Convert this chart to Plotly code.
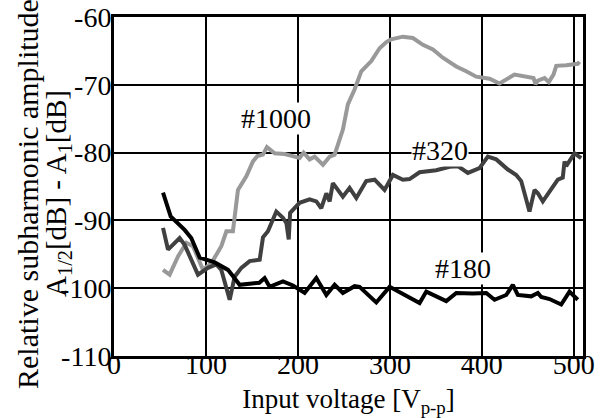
import plotly.graph_objects as go

# ---- data ----
x180 = [53.3, 61.6, 76.8, 84.0, 93.2, 100.4, 109.5, 124.0, 133.0, 136.6, 150.0, 158.0, 163.8, 169.2,
        183.7, 194.6, 207.3, 220.0, 230.9, 239.9, 248.9, 261.6, 267.0, 285.2, 299.7, 316.0, 332.3,
        339.6, 361.3, 372.2, 390.2, 404.8, 413.8, 426.5, 433.7, 439.1, 453.7, 460.9, 464.6, 473.6,
        486.3, 495.3, 504.3]
y180 = [-85.9, -89.4, -91.4, -92.6, -95.5, -95.8, -96.2, -97.3, -99.0, -99.5, -99.3, -99.2, -98.5, -99.8,
        -99.0, -99.6, -100.7, -98.5, -101.0, -99.5, -100.7, -99.7, -99.8, -102.1, -99.8, -101.0, -102.2,
        -100.5, -101.9, -100.7, -100.8, -100.7, -101.7, -101.0, -99.5, -101.0, -101.2, -100.7, -101.3, -101.6,
        -102.4, -100.5, -101.7]

x320 = [53.3, 58.7, 71.4, 76.8, 91.3, 102.2, 111.3, 116.7, 125.8, 131.2, 138.5, 147.5, 158.4, 162.0,
        167.4, 176.5, 183.7, 187.5, 190.0, 191.5, 201.8, 212.7, 220.0, 225.4, 230.9, 234.5, 238.0,
        248.9, 256.2, 263.5, 274.3, 283.4, 294.2, 303.3, 314.1, 321.4, 332.3, 350.4, 364.9, 373.9,
        384.8, 397.5, 406.5, 415.7, 428.3, 437.4, 442.8, 451.8, 457.3, 460.9, 466.3, 477.2, 482.6,
        488.0, 489.9, 491.7, 500.8, 508.0]
y320 = [-91.1, -94.3, -92.6, -93.6, -98.0, -97.0, -96.5, -97.3, -101.7, -98.3, -97.0, -96.0, -95.8, -92.5,
        -91.6, -88.7, -89.6, -90.4, -92.8, -88.9, -87.4, -86.9, -87.2, -88.2, -86.0, -87.2, -84.5,
        -86.5, -85.2, -86.7, -84.2, -84.0, -85.5, -83.3, -84.0, -83.9, -82.9, -82.6, -82.1, -82.0,
        -83.0, -82.3, -80.6, -81.0, -82.5, -83.3, -84.2, -88.7, -85.5, -86.0, -87.2, -85.0, -84.0,
        -83.7, -81.3, -82.0, -80.1, -80.8]

x1000 = [53.3, 60.5, 69.6, 78.7, 85.9, 96.7, 105.9, 116.7, 122.2, 129.3, 134.8, 143.9, 151.1, 156.0,
         162.0, 166.3, 174.7, 185.5, 196.4, 201.8, 206.2, 212.7, 218.2, 227.2, 234.5, 239.9, 248.9,
         254.3, 261.6, 268.9, 279.8, 288.8, 296.1, 301.5, 314.1, 325.0, 335.9, 346.8, 357.6, 372.2,
         383.0, 393.9, 408.4, 419.2, 435.5, 446.4, 456.2, 458.4, 460.9, 468.2, 472.8, 477.9, 480.9,
         491.7, 504.3, 506.2]
y1000 = [-97.3, -98.0, -95.3, -93.3, -93.8, -97.3, -96.3, -93.8, -91.6, -91.6, -85.5, -83.5, -81.3, -80.5,
         -80.3, -79.2, -80.1, -80.2, -80.6, -80.8, -80.0, -81.0, -80.6, -81.8, -80.6, -80.3, -76.6,
         -72.9, -70.7, -68.0, -66.5, -64.6, -63.7, -63.3, -62.9, -63.1, -64.1, -64.8, -66.0, -67.3,
         -68.0, -68.8, -69.1, -69.8, -68.5, -68.7, -69.0, -69.9, -69.4, -69.0, -69.6, -68.5, -67.2,
         -67.1, -66.9, -66.6]

x_ticks = [0, 100, 200, 300, 400, 500]
y_ticks = [-110, -100, -90, -80, -70, -60]
y_ticktext = ["-110", "-100", "-90", "-80", "-70", "-60"]

labels = ["#180", "#320", "#1000"]
label_x = [380, 354, 176]
label_y = [-97.1, -79.7, -74.9]

FONT = "Liberation Serif, Times New Roman, serif"

fig = go.Figure()
fig.add_trace(go.Scatter(x=x1000, y=y1000, mode="lines",
                         line=dict(color="#999999", width=4), showlegend=False))
fig.add_trace(go.Scatter(x=x320, y=y320, mode="lines",
                         line=dict(color="#404040", width=4), showlegend=False))
fig.add_trace(go.Scatter(x=x180, y=y180, mode="lines",
                         line=dict(color="#000000", width=4), showlegend=False))

for t, lx, ly in zip(labels, label_x, label_y):
    fig.add_annotation(x=lx, y=ly, text=t, showarrow=False, bgcolor="white",
                       font=dict(family=FONT, size=28, color="black"), borderpad=0)

# y-axis title (two lines, tight spacing as in the reference)
fig.add_annotation(xref="paper", yref="paper", x=(28 - 114) / 469, y=0.478,
                   xanchor="center", yanchor="middle",
                   text="Relative subharmonic amplitude", textangle=-90, showarrow=False,
                   font=dict(family=FONT, size=30, color="black"))
fig.add_annotation(xref="paper", yref="paper", x=(58 - 114) / 469, y=0.478,
                   xanchor="center", yanchor="middle",
                   text="A<sub>1/2</sub>[dB] - A<sub>1</sub>[dB]", textangle=-90, showarrow=False,
                   font=dict(family=FONT, size=29, color="black"))

fig.update_layout(
    template="none",
    width=608, height=418,
    margin=dict(l=114, r=25, t=17, b=62, autoexpand=False),
    paper_bgcolor="white", plot_bgcolor="white",
    font=dict(family=FONT, color="black"),
    xaxis=dict(range=[0, 510], tickvals=x_ticks, ticks="", showgrid=True, gridcolor="black",
               gridwidth=2, showline=True, linecolor="black", linewidth=3, mirror=True,
               zeroline=False, tickfont=dict(size=28, family=FONT), ticklabelstandoff=-19,
               automargin=False,
               title=dict(text="Input voltage [V<sub>p-p</sub>]", font=dict(size=27, family=FONT),
                          standoff=12)),
    yaxis=dict(range=[-110, -60], tickvals=y_ticks, ticktext=y_ticktext, ticks="", showgrid=True,
               gridcolor="black", gridwidth=2, showline=True, linecolor="black", linewidth=3,
               mirror=True, zeroline=False, tickfont=dict(size=28, family=FONT),
               ticklabelstandoff=-6, automargin=False),
)

fig.write_html("out.html")
